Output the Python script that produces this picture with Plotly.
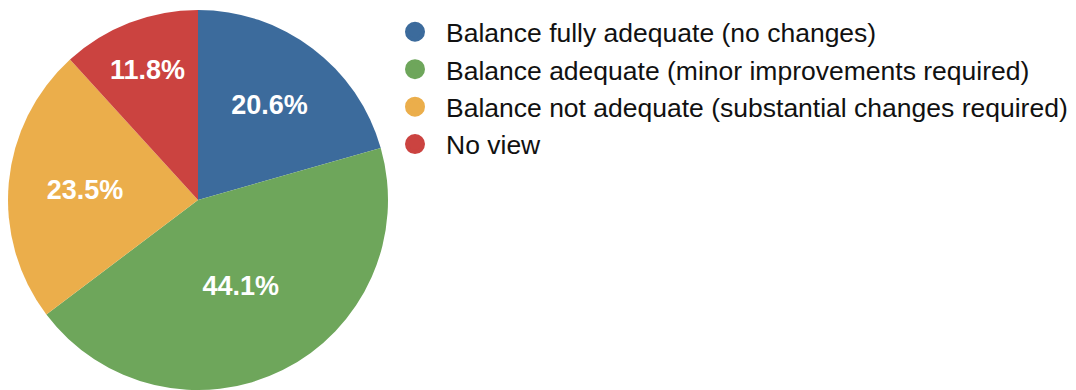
import plotly.graph_objects as go

# Survey responses on the balance question
categories = [
    "Balance fully adequate (no changes)",
    "Balance adequate (minor improvements required)",
    "Balance not adequate (substantial changes required)",
    "No view",
]
counts = [7, 15, 8, 4]
colors = ["#3c6b9c", "#6ea65b", "#ebae4b", "#cb4340"]

W, H = 1076, 390

fig = go.Figure()

fig.add_trace(go.Pie(
    labels=categories,
    values=counts,
    sort=False,
    direction="clockwise",
    rotation=0,
    marker=dict(colors=colors, line=dict(width=0)),
    textinfo="percent",
    texttemplate="%{percent:.1%}",
    textposition="inside",
    insidetextorientation="horizontal",
    textfont=dict(family="Liberation Sans, Arial, sans-serif", size=27, color="white", weight="bold"),
    hoverinfo="label+percent",
    showlegend=False,
    domain=dict(x=[8 / W, 388 / W], y=[0, 380 / H]),
))

# Legend entries with round swatches (outline in the same colour enlarges the dot)
for i, (name, col) in enumerate(zip(categories, colors)):
    fig.add_trace(go.Scatter(
        x=[None], y=[None], mode="markers", name=name,
        legendgroup=f"g{i}",
        marker=dict(symbol="circle", size=16, color=col, line=dict(width=4, color=col)),
    ))

fig.update_layout(
    width=W, height=H,
    margin=dict(l=0, r=0, t=0, b=0),
    paper_bgcolor="white", plot_bgcolor="white",
    xaxis=dict(visible=False), yaxis=dict(visible=False),
    legend=dict(
        x=384 / W, y=1 - 8 / H, xanchor="left", yanchor="top",
        font=dict(family="Liberation Sans, Arial, sans-serif", size=26.5, color="#111111"),
        itemwidth=52, tracegroupgap=0,
        bgcolor="rgba(0,0,0,0)",
    ),
)

fig.write_html("out.html")
